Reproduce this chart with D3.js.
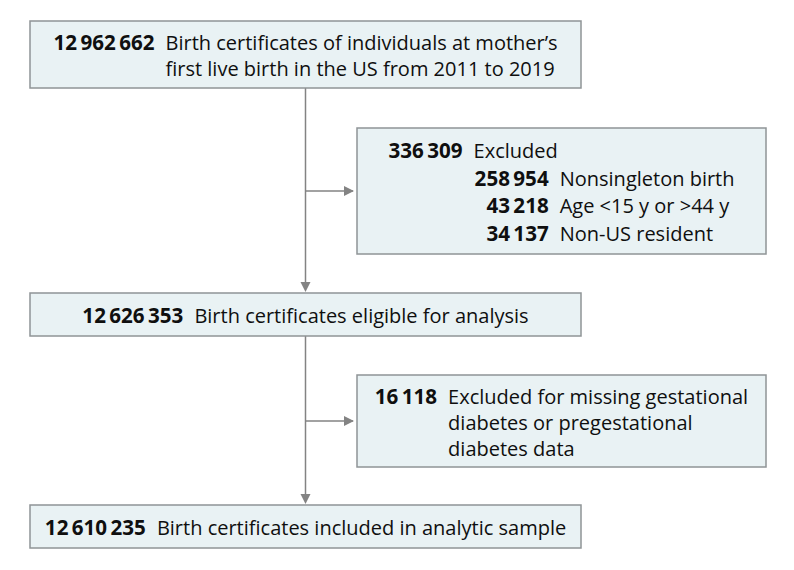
<!DOCTYPE html>
<html><head><meta charset="utf-8">
<script src="https://cdn.jsdelivr.net/npm/d3@7"></script>
<style>
body{margin:0;background:#fff}
svg{display:block}
text{font-family:"Open Sans",sans-serif;font-size:20px;fill:#0f0f0f}
text.num{font-weight:700;font-size:20.6px}
</style>
</head><body>
<svg id="c" width="794" height="570"></svg>
<script>
// ---- data ----
const mainCounts = [12962662, 12626353, 12610235];
const mainLabels = [
  ["Birth certificates of individuals at mother\u2019s", "first live birth in the US from 2011 to 2019"],
  ["Birth certificates eligible for analysis"],
  ["Birth certificates included in analytic sample"]
];
const exclusionCounts = [336309, 16118];
const exclusionLabels = [
  ["Excluded"],
  ["Excluded for missing gestational", "diabetes or pregestational", "diabetes data"]
];
const reasonCounts = [258954, 43218, 34137];
const reasonLabels = ["Nonsingleton birth", "Age <15 y or >44 y", "Non-US resident"];

// ---- layout ----
const fmt = d3.formatLocale({decimal:".", thousands:"\u2009", grouping:[3], currency:["",""]}).format(",");
const svg = d3.select("#c");
const fill = "#e9f2f4", stroke = "#8f9496", lineCol = "#838383";
const mainX = [30, 581];
const mainY = [[21, 88], [293, 336], [505, 548]];
const exclX = [357, 766];
const exclY = [[128, 254], [375, 467]];
const gap = 11, baseOff = 8.5;
const cx = (mainX[0] + mainX[1]) / 2;

function box(x0, x1, y0, y1) {
  svg.append("rect").attr("x", x0).attr("y", y0).attr("width", x1 - x0).attr("height", y1 - y0)
    .attr("fill", fill).attr("stroke", stroke).attr("stroke-width", 1.5);
}
// rows: {num, numRight, label}
function content(rows, x0, x1, y0, y1, lh) {
  const g = svg.append("g");
  const n = rows.length;
  const yc = (y0 + y1) / 2 + baseOff;
  rows.forEach((r, i) => {
    const y = yc + (i - (n - 1) / 2) * lh;
    if (r.num != null) g.append("text").attr("class", "num").attr("x", r.numRight).attr("y", y)
      .attr("text-anchor", "end").text(fmt(r.num));
    g.append("text").attr("x", r.labelX).attr("y", y).text(r.label);
  });
  const bb = g.node().getBBox();
  g.attr("transform", `translate(${((x0 + x1) / 2 - (bb.x + bb.width / 2)).toFixed(1)},0)`);
}
function numWidth(v) {
  const t = svg.append("text").attr("class", "num").text(fmt(v));
  const w = t.node().getComputedTextLength(); t.remove(); return w;
}

// connectors
function vArrow(x, y0, y1) {
  svg.append("line").attr("x1", x).attr("x2", x).attr("y1", y0).attr("y2", y1 - 4)
    .attr("stroke", lineCol).attr("stroke-width", 1.5);
  svg.append("path").attr("d", `M${x - 5},${y1 - 11}L${x + 5},${y1 - 11}L${x},${y1 - 1}Z`).attr("fill", lineCol);
}
function hArrow(x0, x1, y) {
  svg.append("line").attr("x1", x0).attr("x2", x1 - 4).attr("y1", y).attr("y2", y)
    .attr("stroke", lineCol).attr("stroke-width", 1.5);
  svg.append("path").attr("d", `M${x1 - 13},${y - 5}L${x1 - 13},${y + 5}L${x1 - 3},${y}Z`).attr("fill", lineCol);
}
for (let i = 0; i < 2; i++) {
  vArrow(cx, mainY[i][1], mainY[i + 1][0]);
  hArrow(cx, exclX[0], (exclY[i][0] + exclY[i][1]) / 2);
}

// main boxes
mainCounts.forEach((c, i) => {
  const [y0, y1] = mainY[i];
  box(mainX[0], mainX[1], y0, y1);
  const rows = mainLabels[i].map((l, j) => ({num: j === 0 ? c : null, numRight: 0, labelX: gap, label: l}));
  content(rows, mainX[0], mainX[1], y0, y1, 26.5);
});

// exclusion boxes
exclusionCounts.forEach((c, i) => {
  const [y0, y1] = exclY[i];
  box(exclX[0], exclX[1], y0, y1);
  let rows = exclusionLabels[i].map((l, j) => ({num: j === 0 ? c : null, numRight: 0, labelX: gap, label: l}));
  let lh = 26;
  if (i === 0) {
    const subRight = gap + numWidth(c) + 1;
    rows = rows.concat(reasonCounts.map((rc, k) => ({num: rc, numRight: subRight, labelX: subRight + gap, label: reasonLabels[k]})));
    lh = 27.6;
  }
  content(rows, exclX[0], exclX[1], y0, y1, lh);
});
</script>
</body></html>
